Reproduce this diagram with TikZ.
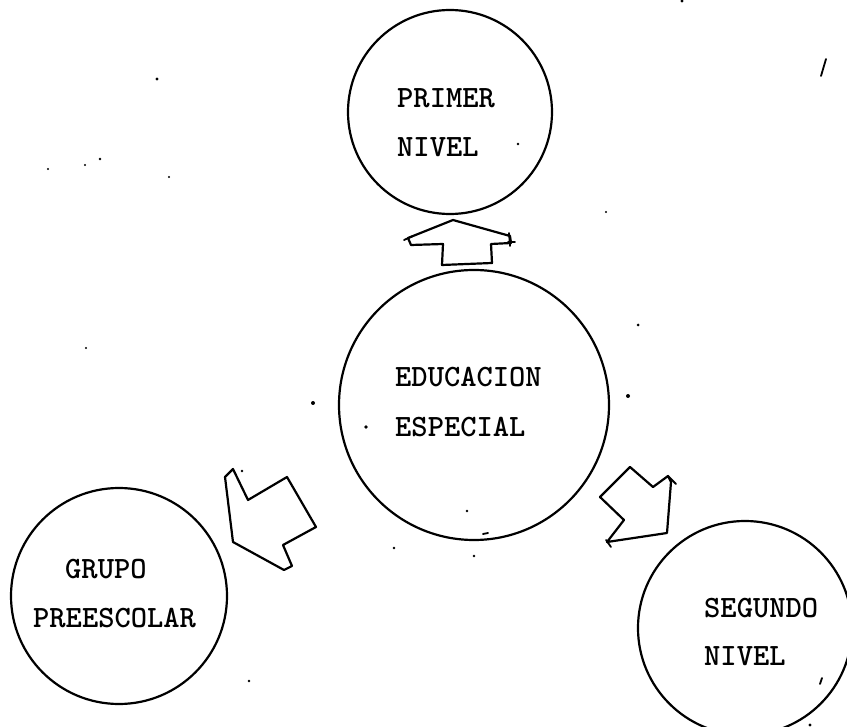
\documentclass[tikz,border=0pt]{standalone}
\usepackage{fontspec}
\begin{document}
\begin{tikzpicture}[x=1pt,y=-1pt,
  ring/.style={draw, circle, line width=2.2pt, inner sep=0pt},
  lbl/.style={anchor=base west, inner sep=0pt, font=\fontsize{31}{31}\selectfont\ttfamily\bfseries},
  blockarrow/.style={draw, line width=2.2pt, line join=round, line cap=round},
  tick/.style={line width=1.8pt, line cap=round},
]
\useasboundingbox (0,0) rectangle (847,727);

% the four circles
\node[ring, minimum size=204pt] (prim) at (450,112) {};
\node[ring, minimum size=270pt] (edu)  at (474,405) {};
\node[ring, minimum size=216pt] (pre)  at (119,596) {};
\node[ring, minimum size=214pt] (seg)  at (745,628) {};

% labels
\node[lbl] (primA) at (397,108) {PRIMER};
\node[lbl] (primB) at (397,157) {NIVEL};
\node[lbl] (eduA)  at (395,387) {EDUCACION};
\node[lbl] (eduB)  at (395,437) {ESPECIAL};
\node[lbl] (preA)  at (65,578)  {GRUPO};
\node[lbl] (preB)  at (33,627)  {PREESCOLAR};
\node[lbl] (segA)  at (704,617) {SEGUNDO};
\node[lbl] (segB)  at (704,665) {NIVEL};

% block arrow towards PRIMER NIVEL
\draw[blockarrow] (453,220) -- (510,236) -- (511,243) -- (491,244) -- (492,263)
  -- (442,265) -- (443,244) -- (411,245) -- (408,238) -- cycle;
\draw[tick] (404,240) -- (413,236);
\draw[tick] (509,233) -- (510,246);
\draw[tick] (508,242) -- (515,242);

% block arrow towards GRUPO PREESCOLAR
\draw[blockarrow] (225,477) -- (233,469) -- (248,500) -- (287,477) -- (316,527)
  -- (283,545) -- (292,566) -- (284,570) -- (233,542) -- cycle;

% block arrow towards SEGUNDO NIVEL
\draw[blockarrow] (630,467) -- (653,487) -- (668,476) -- (671,482) -- (667,533)
  -- (607,542) -- (624,520) -- (600,497) -- cycle;
\draw[tick] (668,476) -- (676,484);
\draw[tick] (606,540) -- (611,547);

% loose specks
\foreach \p/\r in {(157,79)/1.6, (48,169)/1.1, (85,165)/1.1, (100,159)/1.4,
  (169,177)/1.2, (518,144)/1.3, (682,1)/1.6, (606,212)/1.2, (638,325)/1.5,
  (628,396)/2.0, (313,403)/2.0, (366,427)/1.8, (467,511)/1.3, (394,548)/1.3,
  (474,556)/1.4, (249,681)/1.4, (810,725)/1.6, (86,348)/1.2, (242,471)/1.4}
  \fill \p circle (\r pt);
\draw[tick] (483,534) -- (488,533);
\draw[tick] (821,76) -- (826,59);
\draw[tick] (820,684) -- (822,678);
\end{tikzpicture}
\end{document}
